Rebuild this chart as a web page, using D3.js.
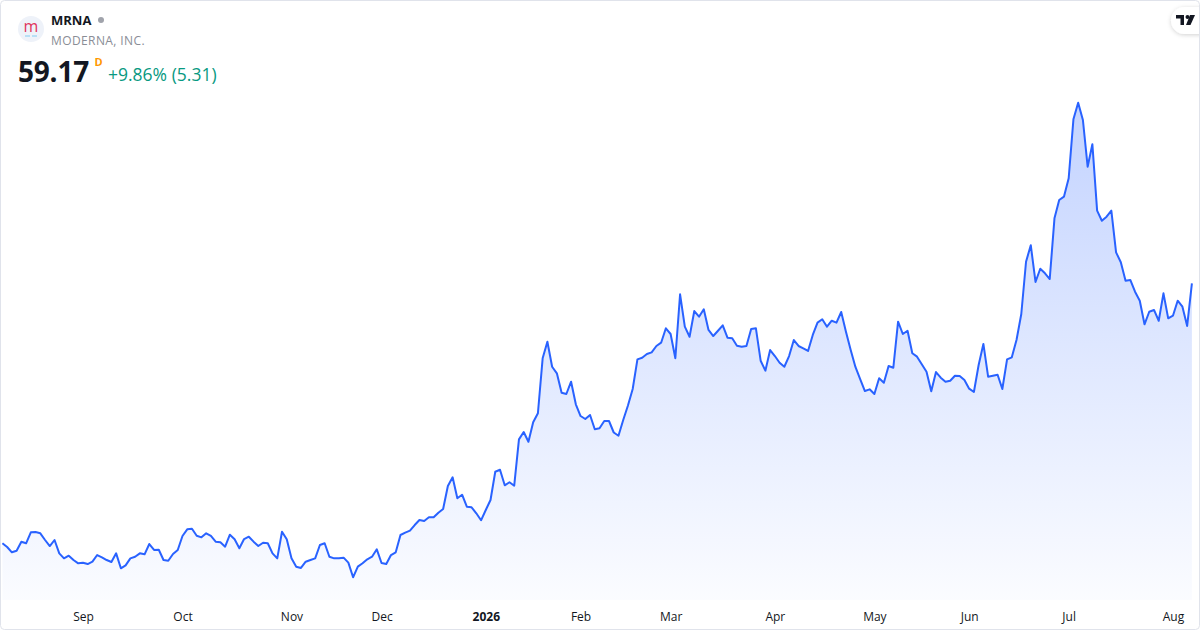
<!DOCTYPE html>
<html>
<head>
<meta charset="utf-8">
<script src="https://cdn.jsdelivr.net/npm/d3@7"></script>
<style>
  body { margin: 0; background: #fff; }
  svg { display: block; font-family: "Open Sans", "Noto Sans", sans-serif; }
</style>
</head>
<body>
<script>
  // daily closes, first session 2025-08-07
  var closes = [
    26.83, 26.37, 25.71, 25.91, 27.03, 26.83, 28.20, 28.23, 28.07, 27.24,
    26.49, 27.24, 25.58, 24.96, 25.29, 24.75, 24.34, 24.42, 24.25, 24.54,
    25.37, 25.09, 24.75, 24.50, 25.58, 23.72, 24.09, 24.96, 25.16, 25.58,
    25.46, 26.74, 26.00, 26.03, 24.75, 24.66, 25.50, 26.00, 27.74, 28.57,
    28.64, 27.77, 27.57, 28.07, 27.74, 27.03, 26.95, 26.41, 27.90, 27.33,
    26.21, 27.36, 27.65, 27.03, 26.49, 26.90, 26.83, 25.58, 24.96, 28.27,
    27.33, 24.96, 23.92, 23.76, 24.54, 24.75, 24.96, 26.62, 26.83, 25.16,
    24.96, 24.96, 25.04, 24.42, 22.60, 23.92, 24.34, 24.84, 25.16, 26.08,
    24.38, 24.25, 25.37, 25.71, 27.86, 28.15, 28.40, 29.10, 29.73, 29.60,
    30.06, 30.06, 30.63, 31.09, 33.96, 35.04, 32.43, 32.87, 31.38, 31.31,
    30.56, 29.69, 30.97, 32.21, 35.73, 35.98, 34.04, 34.42, 33.99, 39.76,
    40.67, 39.46, 41.88, 43.00, 49.84, 51.90, 48.79, 47.97, 45.56, 45.40,
    46.93, 44.12, 42.66, 42.29, 42.79, 41.01, 41.13, 42.04, 42.04, 40.61,
    40.21, 42.16, 43.97, 46.02, 49.71, 49.91, 50.37, 50.58, 51.37, 51.78,
    53.57, 52.86, 49.84, 57.80, 53.77, 52.52, 55.72, 55.01, 55.93, 53.36,
    52.61, 53.27, 53.94, 52.40, 52.33, 51.41, 51.28, 51.37, 53.48, 53.57,
    49.54, 48.30, 50.87, 50.12, 49.29, 48.79, 50.12, 52.11, 51.37, 51.08,
    50.75, 52.74, 54.27, 54.69, 53.77, 54.51, 54.27, 55.60, 53.15, 50.87,
    48.76, 47.26, 45.77, 45.98, 45.40, 47.35, 46.80, 48.88, 48.67, 54.39,
    52.86, 53.27, 50.46, 50.04, 49.09, 48.17, 45.73, 48.13, 47.43, 46.93,
    47.05, 47.67, 47.64, 47.14, 46.06, 45.65, 49.00, 51.62, 47.55, 47.67,
    47.80, 46.02, 49.71, 49.96, 52.15, 55.35, 61.85, 63.91, 59.33, 60.98,
    60.41, 59.70, 67.25, 69.53, 69.94, 72.23, 79.56, 81.63, 79.48, 73.67,
    76.46, 68.20, 66.95, 67.45, 68.20, 63.02, 61.78, 59.49, 59.58, 58.12,
    57.00, 54.07, 55.63, 55.85, 54.51, 57.92, 54.81, 55.14, 57.00, 56.26,
    53.86, 59.17
  ];

  var firstSession = "2025-08-07";
  var holidays = ["2025-09-01", "2025-11-27", "2025-12-25", "2026-01-01", "2026-01-19",
                  "2026-02-16", "2026-04-03", "2026-05-25", "2026-06-19", "2026-07-03"];
  var tickLabels = ["Sep", "Oct", "Nov", "Dec", "2026", "Feb", "Mar", "Apr", "May", "Jun", "Jul", "Aug"];

  var ticker = "MRNA",
      company = "MODERNA, INC.",
      lastPrice = "59.17",
      change = "+9.86% (5.31)";

  // trading calendar -> one session per close
  var fmt = d3.utcFormat("%Y-%m-%d");
  var sessions = [];
  var day = d3.utcParse("%Y-%m-%d")(firstSession);
  while (sessions.length < closes.length) {
    var wd = day.getUTCDay();
    if (wd != 0 && wd != 6 && holidays.indexOf(fmt(day)) < 0) sessions.push(day);
    day = d3.utcDay.offset(day, 1);
  }
  var monthStarts = [];
  sessions.forEach(function(d, i) {
    if (i > 0 && d.getUTCMonth() != sessions[i - 1].getUTCMonth()) monthStarts.push(i);
  });

  var width = 1200, height = 630;
  var plotBottom = 600;

  var svg = d3.select("body").append("svg")
      .attr("width", width)
      .attr("height", height);

  var defs = svg.append("defs");

  var x = d3.scaleLinear()
      .domain([0, closes.length - 1])
      .range([2.4, 1191.9]);
  var y = d3.scaleLinear()
      .domain(d3.extent(closes))
      .range([577.3, 102.7]);

  var grad = defs.append("linearGradient")
      .attr("id", "fill")
      .attr("gradientUnits", "userSpaceOnUse")
      .attr("x1", 0).attr("x2", 0)
      .attr("y1", y(d3.max(closes))).attr("y2", plotBottom);
  grad.append("stop").attr("offset", 0).attr("stop-color", "#2962ff").attr("stop-opacity", 0.28);
  grad.append("stop").attr("offset", 1).attr("stop-color", "#2962ff").attr("stop-opacity", 0.02);

  var shadow = defs.append("filter").attr("id", "shadow")
      .attr("x", "-50%").attr("y", "-50%").attr("width", "200%").attr("height", "200%");
  shadow.append("feDropShadow")
      .attr("dx", 0).attr("dy", 1).attr("stdDeviation", 2)
      .attr("flood-color", "#000").attr("flood-opacity", 0.18);

  // area + line
  var area = d3.area()
      .x(function(d, i) { return x(i); })
      .y0(plotBottom)
      .y1(function(d) { return y(d); });
  var line = d3.line()
      .x(function(d, i) { return x(i); })
      .y(function(d) { return y(d); });

  svg.append("path")
      .datum(closes)
      .attr("d", area)
      .attr("fill", "url(#fill)");

  svg.append("path")
      .datum(closes)
      .attr("d", line)
      .attr("fill", "none")
      .attr("stroke", "#2962ff")
      .attr("stroke-width", 2)
      .attr("stroke-linejoin", "round");

  // time axis
  var xAxis = svg.append("g")
      .attr("transform", "translate(0," + plotBottom + ")")
      .call(d3.axisBottom(x)
        .tickValues(monthStarts)
        .tickSize(0)
        .tickPadding(12)
        .tickFormat(function(d, i) { return tickLabels[i]; }));
  xAxis.select(".domain").remove();
  xAxis.selectAll("text")
      .attr("fill", "#131722")
      .attr("font-size", 12)
      .attr("font-family", "'Open Sans', sans-serif")
      .attr("font-weight", function(d, i) { return tickLabels[i] == "2026" ? "bold" : "normal"; });

  // header
  var head = svg.append("g");
  head.append("circle").attr("cx", 31).attr("cy", 29).attr("r", 13).attr("fill", "#eef2f9");
  head.append("text").attr("x", 31).attr("y", 32)
      .attr("text-anchor", "middle")
      .attr("font-size", 16)
      .attr("fill", "#e0345c")
      .text("m");
  head.append("line").attr("x1", 25).attr("x2", 30).attr("y1", 36).attr("y2", 36)
      .attr("stroke", "#9ad4f3").attr("stroke-width", 1.3);
  head.append("line").attr("x1", 32).attr("x2", 37).attr("y1", 36).attr("y2", 36)
      .attr("stroke", "#9ad4f3").attr("stroke-width", 1.3);

  head.append("text").attr("x", 51).attr("y", 25)
      .attr("font-size", 13).attr("font-weight", "bold").attr("fill", "#131722")
      .text(ticker);
  head.append("circle").attr("cx", 101).attr("cy", 20).attr("r", 3).attr("fill", "#a0a3ab");
  head.append("text").attr("x", 51).attr("y", 45)
      .attr("font-size", 12).attr("fill", "#8a8d96").attr("letter-spacing", 0.4)
      .text(company);
  head.append("text").attr("x", 18).attr("y", 82)
      .attr("font-size", 28).attr("font-weight", "bold").attr("fill", "#131722")
      .attr("letter-spacing", -0.2)
      .text(lastPrice);
  head.append("text").attr("x", 94.5).attr("y", 66)
      .attr("font-size", 11).attr("font-weight", "bold").attr("fill", "#ff9800")
      .text("D");
  head.append("text").attr("x", 108).attr("y", 81)
      .attr("font-size", 17.5).attr("fill", "#089981")
      .text(change);

  // tv badge, top right
  var badge = svg.append("g");
  badge.append("rect")
      .attr("x", 1171).attr("y", 7).attr("width", 44).attr("height", 27).attr("rx", 13.5)
      .attr("fill", "#fff").attr("filter", "url(#shadow)");
  badge.append("path")
      .attr("d", "M1176,15 h8 v10 h-3.5 v-6.5 h-4.5 z")
      .attr("fill", "#131722");
  badge.append("circle").attr("cx", 1187.5).attr("cy", 17).attr("r", 2).attr("fill", "#131722");
  badge.append("path")
      .attr("d", "M1190,15 h5 l-4.5,10 h-4.5 z")
      .attr("fill", "#131722");

  // frame
  svg.append("rect")
      .attr("x", 0.5).attr("y", 0.5)
      .attr("width", width - 1).attr("height", height - 1)
      .attr("rx", 4)
      .attr("fill", "none")
      .attr("stroke", "#e0e3eb");
</script>
</body>
</html>
